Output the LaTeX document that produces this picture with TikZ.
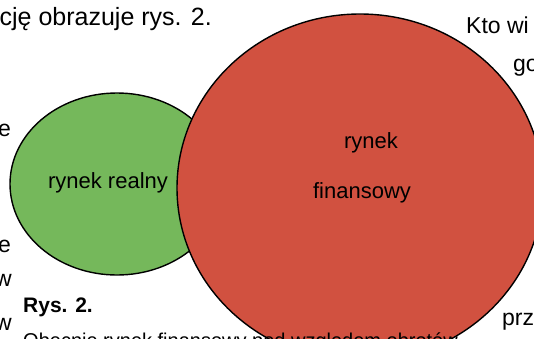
\documentclass[tikz,border=0pt]{standalone}
\usepackage{fontspec}
\setmainfont{Liberation Sans}
\usetikzlibrary{shapes.geometric, positioning}

\definecolor{realgreen}{RGB}{117,184,91}
\definecolor{finred}{RGB}{209,81,64}

\tikzset{
  market/.style={ellipse, draw=black, line width=1.4pt, inner sep=0pt},
  marketlabel/.style={font=\fontsize{22}{26}\selectfont, inner sep=0pt},
  pagetext/.style={font=\fontsize{23}{27}\selectfont, inner sep=0pt, anchor=base west}
}

\begin{document}
\begin{tikzpicture}[x=1pt, y=-1pt]
  \useasboundingbox (0,0) rectangle (534,338);
  \clip (0,0) rectangle (534,338);
  % the two markets
  \node (real) [market, fill=realgreen, minimum width=214pt, minimum height=182pt] at (117,184) {};
  \node (fin) [market, fill=finred, minimum width=366pt, minimum height=348pt] at (360,188) {};
  \node (reallabel) [marketlabel] at (108,183) {rynek realny};
  \node (finlabel1) [marketlabel] at (371,143) {rynek};
  \node (finlabel2) [marketlabel, below=50pt of finlabel1.center, anchor=center, xshift=-9pt] {finansowy};
  % fragments of the page around the figure
  \node (toptext) [pagetext, font=\fontsize{25}{29}\selectfont, anchor=base east] at (212,25) {cję obrazuje rys. 2.};
  \node (rtext1) [pagetext] at (466,33) {Kto wi};
  \node (rtext2) [pagetext] at (513,71) {go};
  \node (rtext3) [pagetext] at (502,325) {prz};
  \node (ltext1) [pagetext, anchor=base east] at (11,136) {e};
  \node (ltext2) [pagetext, anchor=base east] at (11,252) {e};
  \node (ltext3) [pagetext, anchor=base east] at (12,286) {w};
  \node (ltext4) [pagetext, anchor=base east] at (12,330) {w};
  \node (caption) [pagetext, font=\bfseries\fontsize{21}{25}\selectfont] at (23,312) {Rys. 2.};
  \node (captext) [pagetext, font=\fontsize{20}{24}\selectfont] at (23,347) {Obecnie rynek finansowy pod względem obrotów};
\end{tikzpicture}
\end{document}
